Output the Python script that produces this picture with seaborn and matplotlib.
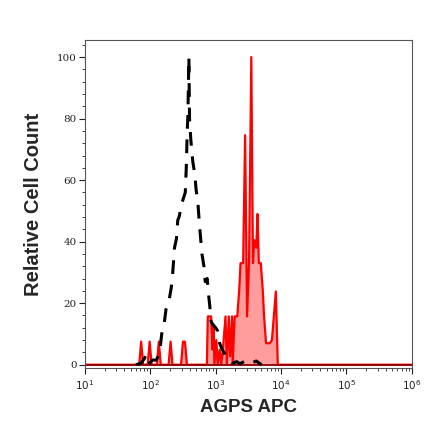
import numpy as np
import matplotlib
matplotlib.use('Agg')
import matplotlib.pyplot as plt
from matplotlib.ticker import MultipleLocator, LogLocator, NullFormatter
import seaborn as sns

# channel positions are log10 of the APC intensity
isotype_log = [1.78, 1.86, 1.91, 1.94, 1.99, 2.03, 2.09, 2.14, 2.18, 2.21,
               2.24, 2.28, 2.32, 2.34, 2.37, 2.40, 2.42, 2.44, 2.47, 2.49, 2.535,
               2.55, 2.565, 2.575, 2.59, 2.60, 2.62, 2.65, 2.68, 2.70, 2.73, 2.75,
               2.77, 2.79, 2.82, 2.84, 2.87, 2.89, 2.91, 2.93, 2.96, 3.00, 3.03,
               3.06, 3.10, 3.15, 3.21, 3.26, 3.32, 3.37, 3.45, 3.52, 3.62, 3.70]
isotype_val = [0, 0.5, 2, 3.5, 0.5, 1.5, 1.5, 3.5, 11, 13,
               18, 20, 25, 29, 38, 41, 47, 48, 51, 53, 56,
               64, 76, 81, 100, 80, 73, 66, 62, 57, 52, 46,
               41, 36, 32, 27, 28, 23, 19, 14, 13, 12, 11,
               7, 5, 3, 2, 0.5, 1, 0.3, 1.2, 0.3, 1.2, 0]

stained_log = [1.00, 1.83, 1.86, 1.89, 1.96, 1.99, 2.02, 2.10, 2.13, 2.16, 2.28,
               2.31, 2.34, 2.47, 2.50, 2.53, 2.56, 2.865, 2.88, 2.93, 2.95, 2.97,
               2.98, 3.01, 3.03, 3.06, 3.085, 3.11, 3.15, 3.17, 3.20, 3.22, 3.25,
               3.26, 3.29, 3.33, 3.36, 3.38, 3.42, 3.45, 3.48, 3.51, 3.545, 3.57,
               3.59, 3.62, 3.64, 3.66, 3.69, 3.72, 3.74, 3.77, 3.80, 3.83, 3.86,
               3.92, 3.95, 6.00]
stained_val = [0, 0, 7.5, 0, 0, 7.5, 0, 0, 7.5, 0, 0,
               7.5, 0, 0, 7.5, 7.5, 0, 0, 15.7, 15.7, 4.9, 12.4,
               0, 8, 0, 4.9, 0, 4.9, 15.7, 0, 15.7, 2.7, 15.7,
               0, 15.7, 15.7, 24.3, 33, 33, 74.6, 15.7, 33, 100, 33,
               40.5, 38, 49, 33, 33, 24.3, 15.7, 7, 7, 7, 8,
               23.8, 0, 0]

x_label = 'AGPS APC'
y_label = 'Relative Cell Count'

sns.set_style('ticks')
plt.rcParams['mathtext.fontset'] = 'dejavuserif'

fig = plt.figure(figsize=(4.40, 4.41), dpi=100)
ax = fig.add_axes([0.193, 0.166, 0.743, 0.743])

stained_x = 10 ** np.array(stained_log)
isotype_x = 10 ** np.array(isotype_log)

ax.fill_between(stained_x, 0, stained_val, color='#ff9c9c', linewidth=0, zorder=1)
sns.lineplot(x=stained_x, y=stained_val, ax=ax, color='#ff0000', linewidth=1.6,
             estimator=None, sort=False, zorder=2)
ax.axhline(0, color='#8b0000', linewidth=1.3, zorder=2.5)
sns.lineplot(x=isotype_x, y=isotype_val, ax=ax, color='black', linewidth=2.2,
             estimator=None, sort=False, zorder=3)
ax.lines[-1].set_dashes([4.5, 3.5])

ax.set_xscale('log')
ax.set_xlim(10, 1e6)
ax.set_ylim(-1, 105.5)
ax.yaxis.set_major_locator(MultipleLocator(20))
ax.yaxis.set_minor_locator(MultipleLocator(4))
ax.xaxis.set_major_locator(LogLocator(base=10, numticks=10))
ax.xaxis.set_minor_locator(LogLocator(base=10, subs=np.arange(2, 10), numticks=20))
ax.xaxis.set_minor_formatter(NullFormatter())

for side in ['top', 'right', 'left', 'bottom']:
    ax.spines[side].set_visible(True)
    ax.spines[side].set_linewidth(0.8)
    ax.spines[side].set_color('#555555')

ax.tick_params(axis='both', which='major', direction='out', length=4, width=0.8,
               labelsize=7.5, colors='#222222')
ax.tick_params(axis='y', which='major', pad=2)
ax.tick_params(axis='both', which='minor', direction='out', length=2, width=0.6)
for lab in ax.get_yticklabels():
    lab.set_family('DejaVu Serif')

ax.set_xlabel(x_label, family='Liberation Sans', fontweight='bold', fontsize=13.5,
              labelpad=5)
ax.set_ylabel(y_label, family='Liberation Sans', fontweight='bold', fontsize=14.5,
              labelpad=10)

fig.savefig('out.png', dpi=100)
